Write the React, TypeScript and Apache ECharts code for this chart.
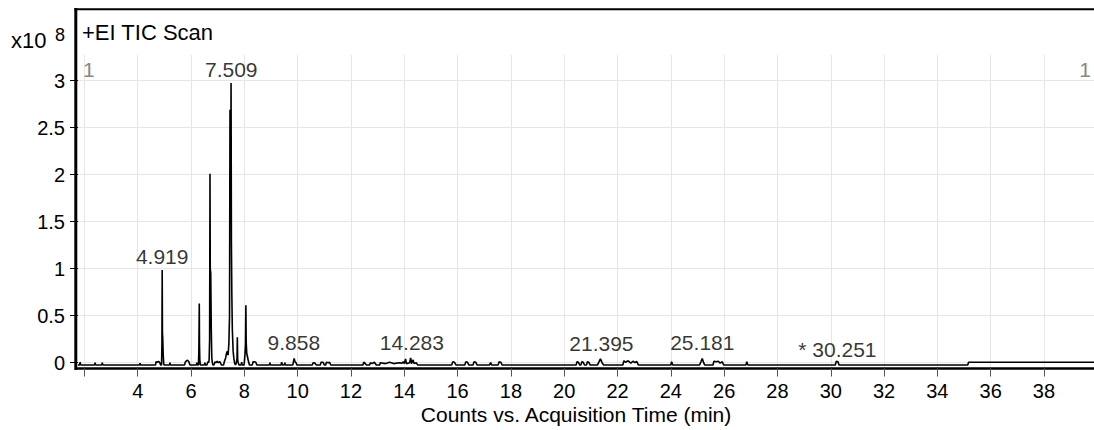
import React, { useEffect, useRef } from "react";
import * as echarts from "echarts";

const FONT = "'Liberation Sans', Arial, Helvetica, sans-serif";

// x axis (minutes)
const xMin = 1.76;
const xMax = 39.876;
const xTicks = [2, 4, 6, 8, 10, 12, 14, 16, 18, 20, 22, 24, 26, 28, 30, 32, 34, 36, 38];
const xLabels = [4, 6, 8, 10, 12, 14, 16, 18, 20, 22, 24, 26, 28, 30, 32, 34, 36, 38];

// y axis (counts, x10^8)
const yMin = -0.062;
const yMax = 3.273;
const yTicks = [0, 0.5, 1, 1.5, 2, 2.5, 3];

// TIC trace: [time (min), counts (x10^8)]
const trace: [number, number][] = [
  [1.76, -0.024],
  [1.82, -0.024], [1.84, 0.005], [1.86, -0.024],
  [2.38, -0.024], [2.4, 0.0], [2.42, -0.024],
  [2.65, -0.024], [2.67, 0.0], [2.69, -0.024],
  [4.07, -0.024], [4.09, -0.005], [4.11, -0.024],
  [4.67, -0.024], [4.69, 0.01], [4.73, 0.005], [4.78, 0.012], [4.82, 0.005], [4.86, -0.024],
  [4.895, -0.024], [4.908, 0.2], [4.919, 0.985], [4.928, 0.32], [4.94, 0.26], [4.955, 0.1], [4.975, -0.01], [4.99, -0.024],
  [5.19, -0.024], [5.21, 0.0], [5.23, -0.024],
  [5.76, -0.024], [5.79, 0.01], [5.83, 0.02], [5.87, 0.025], [5.92, 0.01], [5.96, -0.024],
  [6.2, -0.024], [6.22, 0.0], [6.24, -0.024],
  [6.28, -0.024], [6.295, 0.15], [6.31, 0.63], [6.318, 0.2], [6.33, 0.03], [6.35, -0.024],
  [6.5, -0.024], [6.52, 0.0], [6.54, -0.024],
  [6.6, -0.024], [6.63, 0.01], [6.66, 0.0], [6.68, 0.03], [6.698, 0.25], [6.712, 2.01], [6.722, 1.0], [6.74, 0.95], [6.76, 0.35], [6.78, 0.05], [6.8, 0.0], [6.82, -0.024],
  [6.86, -0.024], [6.9, 0.01], [6.93, 0.0], [6.98, 0.015], [7.02, 0.0], [7.08, 0.01], [7.14, -0.024],
  [7.22, -0.024], [7.26, 0.02], [7.3, 0.05], [7.33, 0.1], [7.36, 0.12], [7.39, 0.08], [7.42, 0.2], [7.445, 0.5], [7.462, 2.69], [7.475, 1.8], [7.49, 1.5], [7.502, 2.975], [7.515, 1.3], [7.53, 0.75], [7.55, 0.35], [7.58, 0.12], [7.61, 0.04], [7.64, -0.01], [7.67, -0.024],
  [7.7, 0.0], [7.725, 0.04], [7.738, 0.27], [7.75, 0.03], [7.77, 0.0], [7.8, -0.024],
  [7.88, -0.024], [7.9, 0.005], [7.92, -0.024],
  [7.99, -0.024], [8.02, 0.07], [8.045, 0.2], [8.058, 0.61], [8.07, 0.22], [8.09, 0.1], [8.12, 0.06], [8.15, 0.02], [8.19, -0.024],
  [8.3, -0.024], [8.33, 0.01], [8.38, 0.01], [8.43, 0.005], [8.47, -0.024],
  [8.94, -0.024], [8.96, 0.0], [8.98, -0.024],
  [9.38, -0.024], [9.4, 0.005], [9.43, -0.024],
  [9.5, -0.024], [9.52, 0.0], [9.54, -0.024],
  [9.82, -0.024], [9.85, 0.02], [9.87, 0.045], [9.9, 0.01], [9.94, 0.0], [9.97, -0.024],
  [10.55, -0.024], [10.58, 0.0], [10.65, -0.005], [10.7, -0.024],
  [10.85, -0.024], [10.88, 0.005], [10.95, 0.005], [11.0, -0.024],
  [11.05, -0.024], [11.08, 0.005], [11.15, 0.0], [11.2, 0.005], [11.24, -0.024],
  [12.45, -0.024], [12.48, 0.005], [12.52, -0.005], [12.58, -0.024],
  [12.7, -0.024], [12.73, 0.0], [12.8, -0.01], [12.88, 0.005], [12.95, -0.024],
  [13.08, -0.024], [13.1, 0.0], [13.3, -0.01], [13.45, 0.005], [13.6, -0.01], [13.8, 0.0], [13.92, -0.005], [13.96, 0.01], [14.0, -0.01], [14.05, 0.04], [14.08, -0.01], [14.2, 0.0], [14.24, 0.05], [14.27, -0.01], [14.33, 0.03], [14.37, -0.01], [14.45, 0.0], [14.5, -0.024],
  [15.78, -0.024], [15.82, 0.01], [15.88, 0.005], [15.94, -0.024],
  [16.27, -0.024], [16.31, 0.01], [16.37, 0.005], [16.42, -0.024],
  [16.58, -0.024], [16.62, 0.01], [16.68, 0.005], [16.73, -0.024],
  [17.2, -0.024], [17.24, 0.0], [17.28, -0.024],
  [17.52, -0.024], [17.56, 0.01], [17.62, 0.005], [17.67, -0.024],
  [20.45, -0.024], [20.48, 0.01], [20.53, 0.005], [20.58, -0.024],
  [20.63, -0.024], [20.66, 0.01], [20.71, 0.005], [20.76, -0.024],
  [20.84, -0.024], [20.87, 0.01], [20.92, 0.005], [20.97, -0.024],
  [21.25, -0.024], [21.3, 0.005], [21.36, 0.04], [21.42, 0.0], [21.48, -0.024],
  [22.2, -0.024], [22.24, 0.02], [22.3, 0.005], [22.4, 0.02], [22.5, -0.005], [22.58, 0.015], [22.66, 0.0], [22.72, 0.015], [22.78, -0.024],
  [24.0, -0.024], [24.03, 0.01], [24.07, -0.024],
  [25.08, -0.024], [25.13, 0.01], [25.18, 0.045], [25.23, 0.0], [25.27, -0.024],
  [25.58, -0.024], [25.62, 0.015], [25.7, 0.01], [25.78, 0.015], [25.85, -0.005], [25.93, 0.01], [25.98, -0.024],
  [26.82, -0.024], [26.85, 0.01], [26.89, -0.024],
  [30.17, -0.024], [30.21, 0.015], [30.27, 0.01], [30.31, -0.024],
  [35.14, -0.024], [35.17, 0.005], [39.876, 0.005],
];

// Peak annotations
const peakTimes = [4.919, 7.509, 9.858, 14.283, 21.395, 25.181, 30.251];
const peakLabelHeights = [0.985, 2.975, 0.073, 0.073, 0.065, 0.07, 0.0];
const peakLabels = ["4.919", "7.509", "9.858", "14.283", "21.395", "25.181", "* 30.251"];

export default function App() {
  const ref = useRef<HTMLDivElement>(null);

  useEffect(() => {
    if (!ref.current) return;
    const chart = echarts.init(ref.current, undefined, { renderer: "svg" });

    const peakData = peakTimes.map((t, i) => ({
      value: [t, peakLabelHeights[i]],
      name: peakLabels[i],
    }));

    chart.setOption({
      animation: false,
      backgroundColor: "#ffffff",
      grid: { left: 78, right: 0, top: 55, bottom: 61.5, containLabel: false },
      xAxis: {
        type: "value",
        min: xMin,
        max: xMax,
        axisLine: { show: true, onZero: false, lineStyle: { color: "#000", width: 2.5 } },
        axisTick: {
          show: true,
          customValues: xTicks,
          length: 8,
          lineStyle: { color: "#555", width: 1 },
        },
        axisLabel: {
          customValues: xLabels,
          fontSize: 20,
          fontFamily: FONT,
          color: "#000",
          margin: 12,
        },
        splitLine: { show: true, lineStyle: { color: "#e6e6e6", width: 1 } },
      },
      yAxis: {
        type: "value",
        min: yMin,
        max: yMax,
        axisLine: { show: false },
        axisTick: {
          show: true,
          customValues: yTicks,
          length: 8,
          lineStyle: { color: "#000", width: 1 },
        },
        axisLabel: {
          customValues: yTicks,
          fontSize: 20,
          fontFamily: FONT,
          color: "#000",
          margin: 13,
        },
        splitLine: { show: true, lineStyle: { color: "#e6e6e6", width: 1 } },
      },
      series: [
        {
          type: "line",
          data: trace,
          showSymbol: false,
          silent: true,
          lineStyle: { color: "#000", width: 1.6 },
          z: 3,
        },
        {
          type: "scatter",
          data: peakData,
          symbolSize: 0,
          silent: true,
          z: 4,
          label: {
            show: true,
            position: "top",
            distance: 3,
            formatter: "{b}",
            fontSize: 21,
            fontFamily: FONT,
            color: "#000",
          },
        },
      ],
      graphic: [
        { type: "line", shape: { x1: 75.8, y1: 8, x2: 75.8, y2: 370 }, style: { stroke: "#000", lineWidth: 3 }, z: 10 },
        { type: "line", shape: { x1: 74.5, y1: 9.2, x2: 1094, y2: 9.2 }, style: { stroke: "#000", lineWidth: 2 }, z: 10 },
        { type: "text", x: 82, y: 32, style: { text: "+EI TIC Scan", fontSize: 22, fontFamily: FONT, fill: "#000", align: "left", verticalAlign: "middle" }, z: 10 },
        { type: "text", x: 11, y: 40, style: { text: "x10", fontSize: 22, fontFamily: FONT, fill: "#000", align: "left", verticalAlign: "middle" }, z: 10 },
        { type: "text", x: 55, y: 35, style: { text: "8", fontSize: 18, fontFamily: FONT, fill: "#000", align: "left", verticalAlign: "middle" }, z: 10 },
        { type: "text", x: 83, y: 69, style: { text: "1", fontSize: 21, fontFamily: FONT, fill: "#888", align: "left", verticalAlign: "middle" }, z: 10 },
        { type: "text", x: 1091, y: 69.5, style: { text: "1", fontSize: 21, fontFamily: FONT, fill: "#888", align: "right", verticalAlign: "middle" }, z: 10 },
        { type: "text", x: 576, y: 414, style: { text: "Counts vs. Acquisition Time (min)", fontSize: 21, fontFamily: FONT, fill: "#000", align: "center", verticalAlign: "middle" }, z: 10 },
      ],
    });

    return () => chart.dispose();
  }, []);

  return (
    <div
      ref={ref}
      style={{ position: "fixed", left: 0, top: 0, width: 1094, height: 430, background: "#fff" }}
    />
  );
}
